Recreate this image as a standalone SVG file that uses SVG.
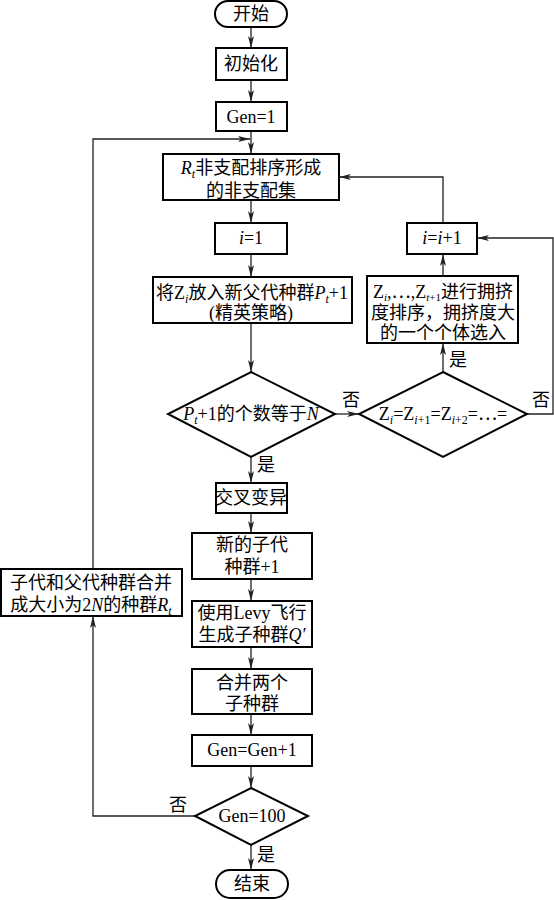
<svg xmlns="http://www.w3.org/2000/svg" width="554" height="900" viewBox="0 0 554 900">
<defs>
<style>
.b{fill:#fff;stroke:#000;stroke-width:2}
.c{fill:none;stroke:#222;stroke-width:1.3}
text{font-family:"Liberation Serif","Noto Sans CJK SC",serif;font-size:18px;fill:#000;text-anchor:middle}
.i{font-style:italic}
.s{font-size:12px}
.t{font-size:11px}
</style>
<marker id="a" markerWidth="12" markerHeight="6" refX="12" refY="3" orient="auto" markerUnits="userSpaceOnUse">
<path d="M0,0 L12,3 L0,6 L3,3 Z" fill="#222"/>
</marker>
</defs>
<rect width="554" height="900" fill="#fff"/>
<g id="connectors">
<path class="c" d="M251,27 V48" marker-end="url(#a)"/>
<path class="c" d="M251,80 V102" marker-end="url(#a)"/>
<path class="c" d="M251,131 V154" marker-end="url(#a)"/>
<path class="c" d="M251,200 V223" marker-end="url(#a)"/>
<path class="c" d="M251,254 V277" marker-end="url(#a)"/>
<path class="c" d="M251,323 V372" marker-end="url(#a)"/>
<path class="c" d="M335,414 H359" marker-end="url(#a)"/>
<path class="c" d="M251,457 V483" marker-end="url(#a)"/>
<path class="c" d="M251,513 V533" marker-end="url(#a)"/>
<path class="c" d="M251,579 V601" marker-end="url(#a)"/>
<path class="c" d="M251,647 V669" marker-end="url(#a)"/>
<path class="c" d="M251,714 V735" marker-end="url(#a)"/>
<path class="c" d="M251,766 V788" marker-end="url(#a)"/>
<path class="c" d="M251,845 V870" marker-end="url(#a)"/>
<path class="c" d="M195,816 H93 V616" marker-end="url(#a)"/>
<path class="c" d="M93,569 V139 H250" marker-end="url(#a)"/>
<path class="c" d="M443,372 V343" marker-end="url(#a)"/>
<path class="c" d="M443,276 V254" marker-end="url(#a)"/>
<path class="c" d="M443,223 V177 H339" marker-end="url(#a)"/>
<path class="c" d="M527,414 H553 V238 H477" marker-end="url(#a)"/>
<text x="351" y="406">否</text>
<text x="541" y="406">否</text>
<text x="266" y="471">是</text>
<text x="458" y="366">是</text>
<text x="178" y="811">否</text>
<text x="266" y="861">是</text>
</g>
<g id="start"><rect class="b" x="215" y="1" width="72" height="26" rx="13"/><text x="251" y="20">开始</text></g>
<g id="init"><rect class="b" x="216" y="48" width="71" height="32"/><text x="251" y="70">初始化</text></g>
<g id="gen1"><rect class="b" x="216" y="102" width="71" height="29"/><text x="251" y="123">Gen=1</text></g>
<g id="rt"><rect class="b" x="163" y="154" width="176" height="46"/>
<text x="251" y="174"><tspan class="i">R</tspan><tspan class="i s" dy="4">t</tspan><tspan dy="-4">非支配排序形成</tspan></text>
<text x="251" y="197">的非支配集</text></g>
<g id="i1"><rect class="b" x="215" y="223" width="72" height="31"/><text x="251" y="244"><tspan class="i">i</tspan>=1</text></g>
<g id="put"><rect class="b" x="153" y="277" width="199" height="46"/>
<text x="252" y="299">将Z<tspan class="i s" dy="4">i</tspan><tspan dy="-4">放入新父代种群</tspan><tspan class="i">P</tspan><tspan class="i s" dy="4">t</tspan><tspan dy="-4">+1</tspan></text>
<text x="251" y="319">(精英策略)</text></g>
<g id="d1"><polygon class="b" points="251,372 335,414 251,457 168,414"/>
<text x="251" y="420"><tspan class="i">P</tspan><tspan class="i s" dy="4">t</tspan><tspan dy="-4">+1的个数等于</tspan><tspan class="i">N</tspan></text></g>
<g id="d2"><polygon class="b" points="443,372 527,414 443,457 359,414"/>
<text x="443" y="420">Z<tspan class="i s" dy="4">i</tspan><tspan dy="-4">=Z</tspan><tspan class="s" dy="4"><tspan class="i">i</tspan>+1</tspan><tspan dy="-4">=Z</tspan><tspan class="s" dy="4"><tspan class="i">i</tspan>+2</tspan><tspan dy="-4">=⋯=</tspan></text></g>
<g id="crowd"><rect class="b" x="367" y="276" width="151" height="67"/>
<text x="443" y="298">Z<tspan class="i t" dy="3">i</tspan><tspan dy="-3">,⋯,Z</tspan><tspan class="t" dy="3"><tspan class="i">t</tspan>+1</tspan><tspan dy="-3">进行拥挤</tspan></text>
<text x="443" y="319">度排序，拥挤度大</text>
<text x="443" y="339">的一个个体选入</text></g>
<g id="iinc"><rect class="b" x="407" y="223" width="70" height="31"/><text x="442" y="244"><tspan class="i">i</tspan>=<tspan class="i">i</tspan>+1</text></g>
<g id="cross"><rect class="b" x="216" y="483" width="71" height="30"/><text x="251" y="504">交叉变异</text></g>
<g id="newchild"><rect class="b" x="192" y="533" width="120" height="46"/>
<text x="252" y="551">新的子代</text><text x="252" y="573">种群+1</text></g>
<g id="levy"><rect class="b" x="192" y="601" width="120" height="46"/>
<text x="252" y="619">使用Levy飞行</text><text x="252" y="641">生成子种群<tspan class="i">Q′</tspan></text></g>
<g id="merge2"><rect class="b" x="192" y="669" width="120" height="45"/>
<text x="252" y="689">合并两个</text><text x="252" y="710">子种群</text></g>
<g id="geninc"><rect class="b" x="192" y="735" width="120" height="31"/><text x="252" y="756">Gen=Gen+1</text></g>
<g id="d3"><polygon class="b" points="251,788 308,816 251,845 195,816"/><text x="252" y="822">Gen=100</text></g>
<g id="end"><rect class="b" x="216" y="870" width="72" height="28" rx="14"/><text x="252" y="890">结束</text></g>
<g id="mergeall"><rect class="b" x="1" y="569" width="181" height="47"/>
<text x="91" y="589">子代和父代种群合并</text>
<text x="91" y="611">成大小为2<tspan class="i">N</tspan>的种群<tspan class="i">R</tspan><tspan class="i s" dy="4">t</tspan></text></g>
</svg>
